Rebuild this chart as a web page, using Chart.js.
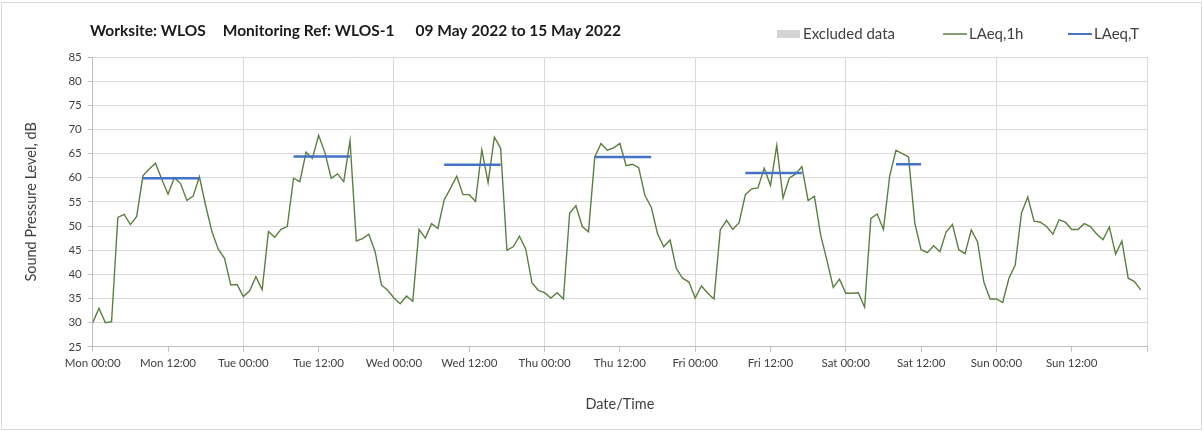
<!DOCTYPE html>
<html>
<head>
<meta charset="utf-8">
<title>WLOS-1 noise monitoring</title>
<script src="https://cdn.jsdelivr.net/npm/chart.js@4.4.0/dist/chart.umd.min.js"></script>
<style>
  html, body { margin: 0; padding: 0; background: #fff; }
  #wrap { position: relative; width: 1203px; height: 431px; }
</style>
</head>
<body>
<div id="wrap"><canvas id="noise"></canvas></div>
<script>
// hourly LAeq,1h readings, Mon 09 May 00:00 -> Sun 15 May 23:00
var laeq1h = [
	30.0, 33.0, 30.0, 30.2, 51.8, 52.4, 50.3, 52.0, 60.4, 61.8, 63.0, 59.7,
	56.6, 60.0, 58.8, 55.3, 56.2, 60.2, 54.2, 48.8, 45.2, 43.3, 37.8, 37.9,
	35.4, 36.6, 39.5, 36.8, 48.9, 47.7, 49.3, 49.9, 59.9, 59.2, 65.3, 64.0,
	68.8, 65.2, 59.9, 60.8, 59.2, 67.7, 46.9, 47.4, 48.3, 44.7, 37.8, 36.7,
	35.1, 33.9, 35.5, 34.4, 49.3, 47.5, 50.5, 49.5, 55.4, 57.8, 60.3, 56.5,
	56.5, 55.1, 65.8, 59.0, 68.4, 66.1, 45.0, 45.7, 47.9, 45.2, 38.2, 36.7,
	36.2, 35.1, 36.2, 34.9, 52.7, 54.2, 49.9, 48.8, 64.3, 67.1, 65.7, 66.2,
	67.1, 62.5, 62.8, 62.1, 56.3, 53.9, 48.4, 45.7, 47.1, 41.2, 39.2, 38.4,
	35.1, 37.6, 36.1, 34.9, 49.2, 51.2, 49.3, 50.7, 56.5, 57.7, 57.9, 62.0,
	58.4, 66.7, 55.8, 59.9, 60.8, 62.3, 55.3, 56.2, 48.1, 42.9, 37.3, 39.0,
	36.1, 36.1, 36.2, 33.2, 51.6, 52.5, 49.3, 60.4, 65.7, 65.0, 64.3, 50.6,
	45.1, 44.5, 45.9, 44.7, 48.8, 50.3, 45.1, 44.3, 49.2, 46.7, 38.4, 34.9,
	34.9, 34.2, 39.2, 41.9, 52.7, 56.0, 51.0, 50.8, 49.9, 48.3, 51.3, 50.8,
	49.3, 49.3, 50.5, 49.9, 48.3, 47.2, 49.8, 44.2, 46.9, 39.2, 38.5, 36.8
];

// LAeq,T over each working period (hours from Mon 00:00)
var periodStart = [8, 32, 56, 80, 104, 128];
var periodEnd = [17, 41, 65, 89, 113, 132];
var laeqT = [59.9, 64.4, 62.7, 64.3, 61.0, 62.8];

var dayNames = ['Mon', 'Tue', 'Wed', 'Thu', 'Fri', 'Sat', 'Sun'];
var hourLabels = ['00:00', '12:00'];

var titleParts = ['Worksite: WLOS', 'Monitoring Ref: WLOS-1', '09 May 2022 to 15 May 2022'];

var FONT = 'Lato, "Open Sans", sans-serif';
var GRID = '#d9d9d9';
var TEXT = '#404040';

var hourlyPoints = [];
for (let i = 0; i < laeq1h.length; i++) {
	hourlyPoints.push({ x: i, y: laeq1h[i] });
}

// one flat segment per period, broken with a null
var periodPoints = [];
for (let i = 0; i < laeqT.length; i++) {
	periodPoints.push({ x: periodStart[i], y: laeqT[i] });
	periodPoints.push({ x: periodEnd[i], y: laeqT[i] });
	periodPoints.push({ x: periodEnd[i], y: null });
}

// title row and legend row are drawn here, plus the light outer frame
var headerPlugin = {
	id: 'header',
	beforeDraw(chart) {
		const c = chart.ctx;
		c.save();
		c.strokeStyle = GRID;
		c.lineWidth = 1;
		c.strokeRect(1.5, 2.5, chart.width - 3, chart.height - 4);
		c.restore();
	},
	afterDraw(chart) {
		const c = chart.ctx;
		c.save();
		c.textBaseline = 'middle';
		c.fillStyle = '#1a1a1a';
		c.font = 'bold 15.5px ' + FONT;
		let tx = 90;
		const gaps = [17, 21];
		for (let i = 0; i < titleParts.length; i++) {
			c.fillText(titleParts[i], tx, 31);
			tx += c.measureText(titleParts[i]).width + (gaps[i] || 0);
		}

		c.font = '15px ' + FONT;
		const itemX = [777, 943, 1068];
		const y = 34;
		chart.data.datasets.forEach((ds, i) => {
			const x = itemX[i];
			if (ds.legendBox) {
				c.fillStyle = ds.backgroundColor;
				c.fillRect(x, y - 4, 23, 8);
			} else {
				c.strokeStyle = ds.borderColor;
				c.lineWidth = ds.legendLine;
				c.beginPath();
				c.moveTo(x, y);
				c.lineTo(x + 24, y);
				c.stroke();
			}
			c.fillStyle = TEXT;
			c.fillText(ds.label, x + 26, y);
		});
		c.restore();
	}
};

var ctx = document.getElementById('noise').getContext('2d');
var noiseChart = new Chart(ctx, {
	type: 'line',
	data: {
		datasets: [{
			label: 'Excluded data',
			data: [],
			legendBox: true,
			backgroundColor: '#d4d4d4',
			borderColor: '#d4d4d4'
		}, {
			label: 'LAeq,1h',
			data: hourlyPoints,
			borderColor: '#5b7f40',
			borderWidth: 1.4,
			legendLine: 1.5,
			pointRadius: 0,
			tension: 0,
			order: 2
		}, {
			label: 'LAeq,T',
			data: periodPoints,
			borderColor: '#4472c4',
			borderWidth: 2.5,
			legendLine: 2,
			pointRadius: 0,
			spanGaps: false,
			order: 1
		}]
	},
	options: {
		responsive: true,
		maintainAspectRatio: false,
		animation: false,
		layout: { padding: { left: 19, top: 57, right: 56, bottom: 14 } },
		plugins: {
			legend: { display: false },
			title: { display: false },
			tooltip: { enabled: false }
		},
		scales: {
			x: {
				type: 'linear',
				min: 0,
				max: 168,
				afterBuildTicks(scale) {
					let ticks = [];
					for (let v = 0; v <= 168; v += 12) ticks.push({ value: v });
					scale.ticks = ticks;
				},
				ticks: {
					color: TEXT,
					font: { family: FONT, size: 11.5 },
					padding: 5,
					maxRotation: 0,
					autoSkip: false,
					callback(v) {
						if (v >= 168) return '';
						return dayNames[Math.floor(v / 24)] + ' ' + hourLabels[(v % 24) / 12];
					}
				},
				grid: {
					color: (c) => (c.tick && c.tick.value % 24 === 0) ? GRID : 'rgba(0,0,0,0)',
					tickColor: '#bfbfbf',
					tickLength: 5
				},
				border: { color: '#bfbfbf' },
				title: {
					display: true,
					text: 'Date/Time',
					color: TEXT,
					font: { family: FONT, size: 14.5 },
					padding: { top: 20, bottom: 4 }
				}
			},
			y: {
				min: 25,
				max: 85,
				ticks: {
					stepSize: 5,
					color: TEXT,
					font: { family: FONT, size: 11.5 },
					padding: 6
				},
				grid: {
					color: GRID,
					tickColor: '#bfbfbf',
					tickLength: 5
				},
				border: { color: '#bfbfbf' },
				title: {
					display: true,
					text: 'Sound Pressure Level, dB',
					color: TEXT,
					font: { family: FONT, size: 14.5 },
					padding: { top: 4, bottom: 22 }
				}
			}
		}
	},
	plugins: [headerPlugin]
});
</script>
</body>
</html>
